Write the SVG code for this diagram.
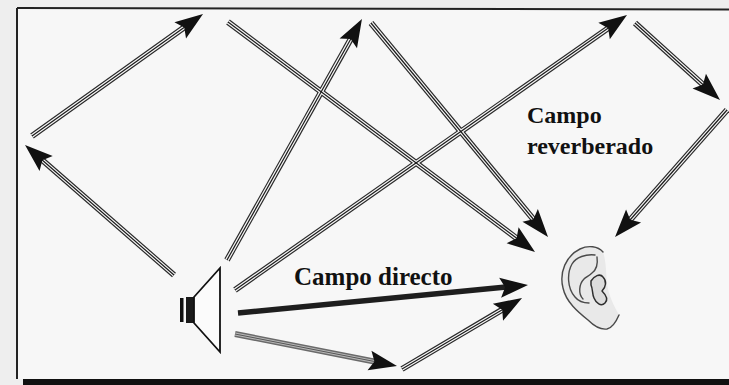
<svg xmlns="http://www.w3.org/2000/svg" xmlns:xlink="http://www.w3.org/1999/xlink" width="729" height="385" viewBox="0 0 729 385">
  <style>
    .rail-outer use { stroke: #2a2a2a; stroke-width: 6; fill: none; }
    .rail-gap use { stroke: #f7f7f7; stroke-width: 3.6; fill: none; }
    .rail-core use { stroke: #1a1a1a; stroke-width: 1.2; fill: none; }
    .rail-core { marker-end: url(#head); }
    .label { font-family: "Liberation Serif", "Times New Roman", serif; font-weight: bold; fill: #111; }
    .ear-line { fill: none; stroke: #4a4a4a; stroke-width: 1.4; stroke-linecap: round; stroke-linejoin: round; }
  </style>
  <defs>
    <!-- arrowhead: tip lies 22 units beyond the end of the shaft -->
    <marker id="head" markerUnits="userSpaceOnUse" orient="auto" refX="0" refY="0" markerWidth="40" markerHeight="30" viewBox="-10 -15 40 30" overflow="visible">
      <path d="M22,0 L-6,-10 L-1,0 L-6,10 Z" fill="#111"/>
    </marker>
    <!-- reflected sound paths (shaft ends) -->
    <path id="sA" d="M32,136 L185.1,26.8"/>
    <path id="sB" d="M174,275 L41.6,159.5"/>
    <path id="sC" d="M228,22 L517.4,238.8"/>
    <path id="sD" d="M371,23 L534,220"/>
    <path id="sE" d="M227,260 L351.2,38.2"/>
    <path id="sF" d="M235,290 L609,27.6"/>
    <path id="sG" d="M635,23 L703.7,85.2"/>
    <path id="sH" d="M727,110 L629.6,220.5"/>
    <path id="sJ" d="M402,369 L503.1,309.2"/>
    <path id="sI" d="M235,334 L375.4,361.7"/>
  </defs>

  <!-- paper and frame -->
  <rect x="0" y="0" width="729" height="385" fill="#eeeeee"/>
  <rect x="17" y="8" width="712" height="371" fill="#f7f7f7"/>
  <line x1="17" y1="8" x2="729" y2="9.5" stroke="#222" stroke-width="2"/>
  <line x1="17" y1="8" x2="17" y2="379" stroke="#222" stroke-width="2"/>
  <rect x="23" y="379" width="706" height="6" fill="#111"/>

  <g id="connectors">
    <g class="rail-outer">
      <use xlink:href="#sA"/><use xlink:href="#sB"/><use xlink:href="#sC"/><use xlink:href="#sD"/>
      <use xlink:href="#sE"/><use xlink:href="#sF"/><use xlink:href="#sG"/><use xlink:href="#sH"/>
      <use xlink:href="#sJ"/>
    </g>
    <g class="rail-gap">
      <use xlink:href="#sA"/><use xlink:href="#sB"/><use xlink:href="#sC"/><use xlink:href="#sD"/>
      <use xlink:href="#sE"/><use xlink:href="#sF"/><use xlink:href="#sG"/><use xlink:href="#sH"/>
      <use xlink:href="#sJ"/>
    </g>
    <g class="rail-core">
      <use xlink:href="#sA"/><use xlink:href="#sB"/><use xlink:href="#sC"/><use xlink:href="#sD"/>
      <use xlink:href="#sE"/><use xlink:href="#sF"/><use xlink:href="#sG"/><use xlink:href="#sH"/>
      <use xlink:href="#sJ"/>
    </g>
    <!-- floor reflection, drawn in grey -->
    <g id="floor-ray">
      <use xlink:href="#sI" style="stroke:#6a6a6a; stroke-width:6; fill:none"/>
      <use xlink:href="#sI" style="stroke:#b8b8b8; stroke-width:3; fill:none"/>
      <use xlink:href="#sI" style="stroke:#555; stroke-width:1; fill:none; marker-end:url(#head)"/>
    </g>
    <!-- direct sound -->
    <path id="direct" d="M238,313 L506.1,287.1" stroke="#1e1e1e" stroke-width="5.5" fill="none" marker-end="url(#head)"/>
  </g>

  <g id="speaker">
    <rect x="180" y="298" width="3.5" height="24" fill="#111"/>
    <rect x="186" y="297" width="8" height="26" fill="#1a1a1a"/>
    <polygon points="194,297 220,268 220,352 194,323" fill="#fbfbfb" stroke="#111" stroke-width="1.8" stroke-linejoin="miter"/>
  </g>

  <g id="ear">
    <path d="M603,252 C598,246 588,245 580,249 C566,256 559,272 563,288 C566,302 578,312 588,320 C594,326 600,330 607,329 C612,328 616,322 619,315 C614,306 609,296 607,284 C606,272 606,260 603,252 Z" fill="#e9e9e9" stroke="none"/>
    <path class="ear-line" d="M603,252 C598,246 588,245 580,249 C566,256 559,272 563,288 C566,302 578,312 588,320 C594,326 600,330 607,329 C612,328 616,322 619,315"/>
    <path class="ear-line" d="M595,255 C586,254 576,257 572,264 C567,273 567,288 575,297 C579,302 584,303 589,303"/>
    <path class="ear-line" d="M597,257 C598,264 596,270 592,273 C589,276 586,277 584,279 C579,284 578,294 583,299"/>
    <path d="M591,281 C594,276 600,273 603,277 C607,281 606,287 602,291 C605,294 609,299 605,303 C601,307 596,303 594,298 C592,294 593,289 591,285 Z" fill="#dcdcdc" stroke="#2e2e2e" stroke-width="1.5" stroke-linejoin="round"/>
  </g>

  <g id="label-direct">
    <text class="label" x="294" y="285" font-size="25">Campo directo</text>
  </g>
  <g id="label-reverb">
    <text class="label" x="527" y="123" font-size="24">Campo</text>
    <text class="label" x="527" y="154" font-size="24">reverberado</text>
  </g>
</svg>
